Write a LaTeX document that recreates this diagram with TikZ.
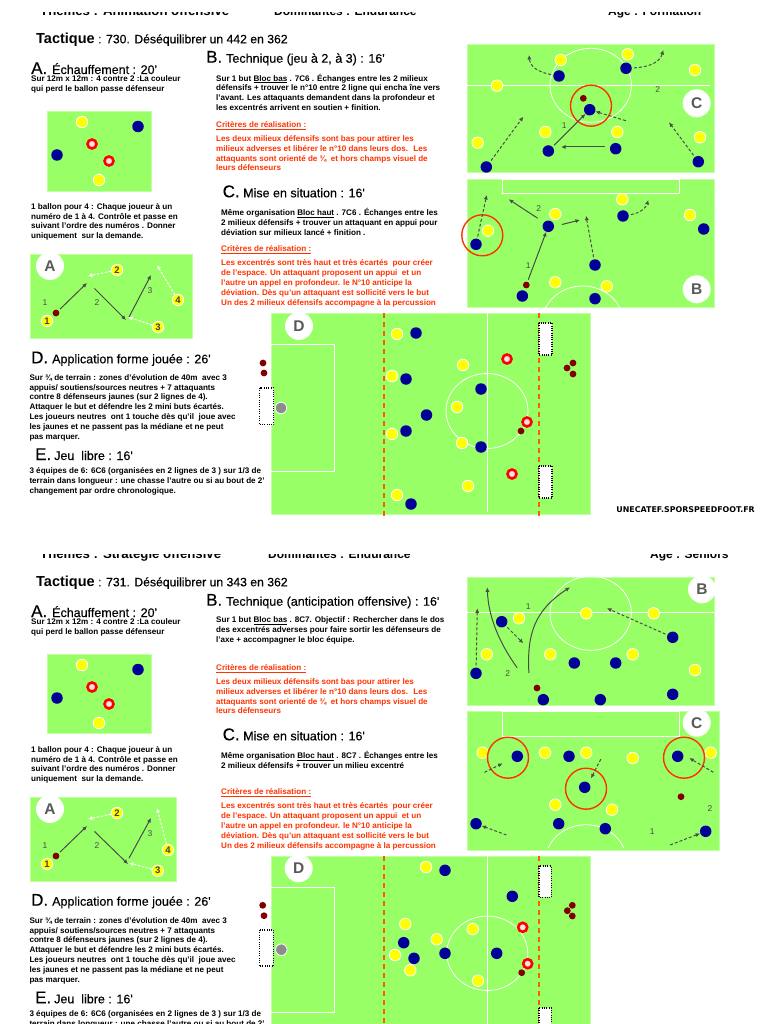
\documentclass[tikz,border=0pt]{standalone}
\usepackage{fontspec}
\setmainfont{Liberation Sans}
\newfontfamily\fonttitre{Liberation Sans}[FakeBold=0.35]
\newfontfamily\fontsite{DejaVu Sans}
\usetikzlibrary{arrows.meta,positioning}
\definecolor{VertTerrain}{RGB}{153,255,102}
\definecolor{BleuJoueur}{RGB}{0,0,153}
\definecolor{JauneJoueur}{RGB}{255,255,0}
\definecolor{RougeJoueur}{RGB}{255,0,0}
\definecolor{Ballon}{RGB}{128,0,0}
\definecolor{Orange}{RGB}{255,51,0}
\definecolor{TraitFleche}{RGB}{75,75,75}
\begin{document}
\begin{tikzpicture}[
    x=1pt, y=-1pt,
    terrain/.style={fill=VertTerrain, draw=VertTerrain!60!white, line width=0.5},
    ligne/.style={draw=white, line width=0.8},
    ja/.style={circle, inner sep=0, minimum size=11.5, fill=JauneJoueur, draw=white, line width=0.8},
    bl/.style={circle, inner sep=0, minimum size=11.5, fill=BleuJoueur},
    ro/.style={circle, inner sep=0, minimum size=9, fill=red!12, draw=RougeJoueur, line width=2.6},
    gris/.style={circle, inner sep=0, minimum size=11.5, fill=gray!90, draw=white, line width=0.8},
    ba/.style={circle, inner sep=0, minimum size=6.8, fill=Ballon},
    num/.style={font=\fontsize{9.5}{9.5}\selectfont\bfseries, text=black!75, inner sep=0},
    lettre/.style={circle, inner sep=0, minimum size=28, fill=white, text=black!65, font=\fontsize{15.5}{15.5}\selectfont\bfseries},
    cercle/.style={circle, inner sep=0, minimum size=41, draw=Orange, line width=1.4},
    chiffre/.style={font=\fontsize{8.5}{8.5}\selectfont, text=TraitFleche, inner sep=0},
    passe/.style={-{Latex[length=4.5,width=4.2]}, draw=TraitFleche, line width=1, shorten <=2},
    course/.style={passe, dash pattern=on 3 off 2},
    appel/.style={-{Latex[length=4.5,width=4.2]}, draw=white, line width=1, dash pattern=on 2.5 off 1.5},
    but/.style={fill=white, draw=black, line width=1.1, dash pattern=on 0.8 off 1.5},
    limite/.style={draw=Orange!80!yellow, line width=1.3, dash pattern=on 5 off 4},
    entete/.style={anchor=base west, inner sep=0, font=\fontsize{12}{12}\selectfont\bfseries},
    grand/.style={anchor=base west, inner sep=0, font=\fontsize{17}{17}\selectfont\fonttitre},
    titre/.style={anchor=base west, inner sep=0, font=\fontsize{12.5}{12.5}\selectfont\fonttitre},
    corps/.style={anchor=north west, inner sep=0, align=left, font=\fontsize{8.1}{9.8}\selectfont\bfseries, execute at begin node=\strut},
    rouge/.style={corps, text=Orange}
]
\path[use as bounding box, clip] (0,0) rectangle (768,1024);
\fill[white] (0,0) rectangle (768,1024);

\node[entete, font=\fontsize{13.2}{13.2}\selectfont\bfseries] (t1a) at (40,16) {Thèmes : Animation offensive};
\node[entete] (t1b) at (274,16) {Dominantes : Endurance};
\node[entete] (t1c) at (608,16) {Age : Formation};
\node[entete, font=\fontsize{13.2}{13.2}\selectfont\bfseries] (t2a) at (40,558) {Thèmes : Stratégie offensive};
\node[entete] (t2b) at (268,558) {Dominantes : Endurance};
\node[entete] (t2c) at (650,558) {Age : Seniors};
\fill[white] (0,0) rectangle (768,12);
\fill[white] (0,530) rectangle (768,553.5);

\node[anchor=base west, inner sep=0, font=\fontsize{14.5}{14.5}\selectfont\bfseries] (tac1) at (36,43.3) {Tactique};
\node[titre, font=\fontsize{12.2}{12.2}\selectfont\fonttitre] (tac1b) at (98,43.3) {: 730. Déséquilibrer un 442 en 362};
\node[grand] (a1) at (31,74) {A.};
\node[titre] (a1t) at (52,74) {Échauffement : 20'};
\node[corps] (a1c) at (31,75.4) {Sur 12m x 12m : 4 contre 2 :La couleur\\qui perd le ballon passe défenseur};
\node[corps] (a1d) at (31,203.1) {1 ballon pour 4 : Chaque joueur à un\\numéro de 1 à 4. Contrôle et passe en\\suivant l'ordre des numéros . Donner\\uniquement~ sur la demande.};
\node[grand] (b1) at (206,62.7) {B.};
\node[titre] (b1t) at (226,62.7) {Technique (jeu à 2, à 3) : 16'};
\node[corps] (b1c) at (216,73.8) {Sur 1 but \underline{Bloc bas} . 7C6 . Échanges entre les 2 milieux\\défensifs + trouver le n°10 entre 2 ligne qui encha îne vers\\l'avant. Les attaquants demandent dans la profondeur et\\les excentrés arrivent en soutien + finition.};
\node[rouge] (b1r) at (216,120.4) {\underline{Critères de réalisation :}};
\node[rouge] (b1s) at (216,135.4) {Les deux milieux défensifs sont bas pour attirer les\\milieux adverses et libérer le n°10 dans leurs dos.~ Les\\attaquants sont orienté de ¾~ et hors champs visuel de\\leurs défenseurs};
\node[grand] (c1) at (222.5,197.3) {C.};
\node[titre] (c1t) at (243,197.3) {Mise en situation : 16'};
\node[corps] (c1c) at (221,208.4) {Même organisation \underline{Bloc haut} . 7C6 . Échanges entre les\\2 milieux défensifs + trouver un attaquant en appui pour\\déviation sur milieux lancé + finition .};
\node[rouge] (c1r) at (221,244.8) {\underline{Critères de réalisation :}};
\node[rouge] (c1s) at (221,259.8) {Les excentrés sont très haut et très écartés~ pour créer\\de l'espace. Un attaquant proposent un appui~ et un\\l'autre un appel en profondeur. le N°10 anticipe la\\déviation. Dès qu'un attaquant est sollicité vers le but\\Un des 2 milieux défensifs accompagne à la percussion};
\node[grand] (d1) at (31,363.3) {D.};
\node[titre] (d1t) at (52,363.3) {Application forme jouée : 26'};
\node[corps] (d1c) at (29.3,374.1) {Sur ¾ de terrain : zones d'évolution de 40m~ avec 3\\appuis/ soutiens/sources neutres + 7 attaquants\\contre 8 défenseurs jaunes (sur 2 lignes de 4).\\Attaquer le but et défendre les 2 mini buts écartés.\\Les joueurs neutres~ ont 1 touche dès qu'il~ joue avec\\les jaunes et ne passent pas la médiane et ne peut\\pas marquer.};
\node[grand] (e1) at (35,460) {E.};
\node[titre] (e1t) at (54,460) {Jeu~ libre : 16'};
\node[corps] (e1c) at (29.3,467.4) {3 équipes de 6: 6C6 (organisées en 2 lignes de 3 ) sur 1/3 de\\terrain dans longueur : une chasse l'autre ou si au bout de 2'\\changement par ordre chronologique.};
\node[anchor=base east, inner sep=0, font=\fontsize{7.9}{7.9}\selectfont\fontsite\bfseries] (site) at (755,512.5) {UNECATEF.SPORSPEEDFOOT.FR};

\node[anchor=base west, inner sep=0, font=\fontsize{14.5}{14.5}\selectfont\bfseries] (tac2) at (36,586.3) {Tactique};
\node[titre, font=\fontsize{12.2}{12.2}\selectfont\fonttitre] (tac2b) at (98,586.3) {: 731. Déséquilibrer un 343 en 362};
\node[grand] (a2) at (31,617) {A.};
\node[titre] (a2t) at (52,617) {Échauffement : 20'};
\node[corps] (a2c) at (31,618.4) {Sur 12m x 12m : 4 contre 2 :La couleur\\qui perd le ballon passe défenseur};
\node[corps] (a2d) at (31,746.1) {1 ballon pour 4 : Chaque joueur à un\\numéro de 1 à 4. Contrôle et passe en\\suivant l'ordre des numéros . Donner\\uniquement~ sur la demande.};
\node[grand] (b2) at (206,605.7) {B.};
\node[titre] (b2t) at (226,605.7) {Technique (anticipation offensive) : 16'};
\node[corps] (b2c) at (216,616.8) {Sur 1 but \underline{Bloc bas} . 8C7. Objectif : Rechercher dans le dos\\des excentrés adverses pour faire sortir les défenseurs de\\l'axe + accompagner le bloc équipe.};
\node[rouge] (b2r) at (216,663.4) {\underline{Critères de réalisation :}};
\node[rouge] (b2s) at (216,678.4) {Les deux milieux défensifs sont bas pour attirer les\\milieux adverses et libérer le n°10 dans leurs dos.~ Les\\attaquants sont orienté de ¾~ et hors champs visuel de\\leurs défenseurs};
\node[grand] (c2) at (222.5,740.3) {C.};
\node[titre] (c2t) at (243,740.3) {Mise en situation : 16'};
\node[corps] (c2c) at (221,751.4) {Même organisation \underline{Bloc haut} . 8C7 . Échanges entre les\\2 milieux défensifs + trouver un milieu excentré};
\node[rouge] (c2r) at (221,787.8) {\underline{Critères de réalisation :}};
\node[rouge] (c2s) at (221,802.8) {Les excentrés sont très haut et très écartés~ pour créer\\de l'espace. Un attaquant proposent un appui~ et un\\l'autre un appel en profondeur. le N°10 anticipe la\\déviation. Dès qu'un attaquant est sollicité vers le but\\Un des 2 milieux défensifs accompagne à la percussion};
\node[grand] (d2) at (31,905.7) {D.};
\node[titre] (d2t) at (52,905.7) {Application forme jouée : 26'};
\node[corps] (d2c) at (29.3,917.1) {Sur ¾ de terrain : zones d'évolution de 40m~ avec 3\\appuis/ soutiens/sources neutres + 7 attaquants\\contre 8 défenseurs jaunes (sur 2 lignes de 4).\\Attaquer le but et défendre les 2 mini buts écartés.\\Les joueurs neutres~ ont 1 touche dès qu'il~ joue avec\\les jaunes et ne passent pas la médiane et ne peut\\pas marquer.};
\node[grand] (e2) at (35,1003.3) {E.};
\node[titre] (e2t) at (54,1003.3) {Jeu~ libre : 16'};
\node[corps] (e2c) at (29.3,1010.4) {3 équipes de 6: 6C6 (organisées en 2 lignes de 3 ) sur 1/3 de\\terrain dans longueur : une chasse l'autre ou si au bout de 2'};

\path[terrain] (47.5,111) rectangle (151,191);
\node[ja] (p1j1) at (82,122) {}; \node[bl] (p1b1) at (138,126.5) {}; \node[bl] (p1b2) at (57,155) {};
\node[ro] (p1r1) at (92,144) {}; \node[ro] (p1r2) at (109,161) {}; \node[ja] (p1j2) at (99,180) {};

\path[terrain] (30,254) rectangle (192,338);
\node[lettre] (lA1) at (50,266) {A};
\node[ja] (n1) at (47,321) {}; \node[ja] (n2) at (117,270) {}; \node[ja] (n3) at (158,327) {}; \node[ja] (n4) at (178,300) {};
\node[num] at (n1) {1}; \node[num] at (n2) {2}; \node[num] at (n3) {3}; \node[num] at (n4) {4};
\node[ba] (nb) at (56,313) {};
\draw[passe] (nb) -- (87,283);
\draw[passe] (93,287) -- (126,320);
\draw[passe] (128,319) -- (151,275);
\draw[appel] (n2) -- (88,276);
\draw[appel] (n4) -- (157,265);
\draw[appel] (n3) -- (128,317);
\node[chiffre] (ch1) at (45,303) {1}; \node[chiffre] (ch2) at (97,303) {2}; \node[chiffre] (ch3) at (150,291) {3};

\path[terrain] (467.3,44) rectangle (714.3,172.7);
\draw[ligne] (467.3,85.3) -- (710,85.3);
\draw[ligne] (590.7,85.3) ellipse [x radius=40.7, y radius=37];
\node[lettre] (lC1) at (696.7,103.3) {C};
\node[ja] (cj1) at (560.7,60) {}; \node[ja] (cj2) at (627.7,54.3) {}; \node[ja] (cj3) at (695,70) {}; \node[ja] (cj4) at (497,85.7) {};
\node[ja] (cj5) at (545.3,132) {}; \node[ja] (cj6) at (617.3,132) {}; \node[ja] (cj7) at (700,137.3) {}; \node[ja] (cj8) at (477.7,142.7) {};
\node[bl] (cb1) at (559,76) {}; \node[bl] (cb2) at (626,68.3) {}; \node[bl] (cb3) at (589.7,109.7) {}; \node[bl] (cb4) at (548.3,151) {};
\node[bl] (cb5) at (615.7,148.7) {}; \node[bl] (cb6) at (486.3,167) {}; \node[bl] (cb7) at (698.3,161.7) {};
\node[ba] (cba) at (583.3,98.3) {};
\node[cercle] (cc1) at (591,105.7) {};
\node[chiffre] (cn2) at (657.7,89.3) {2}; \node[chiffre] (cn1) at (564.3,126) {1};
\draw[course] (cb1) .. controls (537,72) and (530,66) .. (529,55);
\draw[course] (cb2) .. controls (650,67) and (660,62) .. (663.3,50);
\draw[passe] (cb4) -- (cb3);
\draw[passe] (606.7,147) -- (561,147);
\draw[course] (627.7,121.3) -- (cb3);
\draw[course] (cb6) -- (523.3,116.7);
\draw[course] (cb7) -- (669,122.3);

\path[terrain] (467.3,179) rectangle (714.3,307);
\draw[ligne] (502.7,179) rectangle (679,193.7);
\begin{scope}
\clip (467.3,179) rectangle (714.3,307);
\draw[ligne] (582.7,323) ellipse [x radius=40.7, y radius=37];
\end{scope}
\node[lettre] (lB1) at (696.7,289.3) {B};
\node[ja] (bj1) at (622.3,199.3) {}; \node[ja] (bj2) at (555.3,214) {}; \node[ja] (bj3) at (690,215) {};
\node[ja] (bj4) at (488,230.7) {}; \node[ja] (bj5) at (555.3,282.3) {}; \node[ja] (bj6) at (606.7,286.3) {};
\node[bl] (bb1) at (623,216) {}; \node[bl] (bb2) at (703.7,229) {}; \node[bl] (bb3) at (548.3,226.3) {}; \node[bl] (bb4) at (476,244.3) {};
\node[bl] (bb5) at (595,265) {}; \node[bl] (bb6) at (522.3,296) {}; \node[bl] (bb7) at (595,298.7) {};
\node[ba] (bba) at (526.3,285) {};
\node[cercle] (bc1) at (482.3,235.3) {};
\node[chiffre] (bn2) at (538.7,208.7) {2}; \node[chiffre] (bn1) at (528.3,265.7) {1};
\draw[course] (bb4) -- (486.7,195);
\draw[passe] (539.3,219.3) -- (508.7,199.3);
\draw[passe] (560,225) -- (580,220);
\draw[course] (bb5) -- (586,215.7);
\draw[passe] (bba) -- (bb3);
\draw[course] (bb1) .. controls (640,213) and (646,208) .. (648.3,200);

\path[terrain] (271,313) rectangle (590,514);
\draw[ligne] (271,344) -| (334,471) -- (271,471);
\draw[ligne] (487,313) -- (487,512);
\draw[ligne] (487,411) ellipse [x radius=41, y radius=37.5];
\draw[limite] (384,313) -- (384,516);
\draw[limite] (539,313) -- (539,516);
\path[but] (259.5,388) rectangle (273.7,424.6);
\path[but] (539,323) rectangle (552,355);
\path[but] (539,466) rectangle (552,498);
\node[lettre] (lD1) at (299,326) {D};
\node[gris] (dg) at (281,408) {};
\node[ja] (dj1) at (397,334) {}; \node[ja] (dj2) at (463,365) {}; \node[ja] (dj3) at (392,376) {}; \node[ja] (dj4) at (457,407) {};
\node[ja] (dj5) at (392,434) {}; \node[ja] (dj6) at (462,443) {}; \node[ja] (dj7) at (468,486) {}; \node[ja] (dj8) at (397,495) {};
\node[bl] (db1) at (416,333) {}; \node[bl] (db2) at (406,379) {}; \node[bl] (db3) at (481,389) {}; \node[bl] (db4) at (426.5,415) {};
\node[bl] (db5) at (406,431) {}; \node[bl] (db6) at (481,447) {}; \node[bl] (db7) at (411,504) {};
\node[ro] (dr1) at (507,359) {}; \node[ro] (dr2) at (527,422) {}; \node[ro] (dr3) at (512,474) {};
\node[ba] (dba) at (521,431) {};
\node[ba] (dn1) at (263,363) {}; \node[ba] (dn2) at (264,373) {};
\node[ba] (dn3) at (573,363) {}; \node[ba] (dn4) at (567,368) {}; \node[ba] (dn5) at (573,374) {};

\path[terrain] (47.5,654.7) rectangle (151,733.7);
\node[ja] (p2j1) at (82,665) {}; \node[bl] (p2b1) at (138,669.5) {}; \node[bl] (p2b2) at (57,698) {};
\node[ro] (p2r1) at (92,687) {}; \node[ro] (p2r2) at (109,704) {}; \node[ja] (p2j2) at (99,723) {};

\path[terrain] (30,797) rectangle (176.7,881.7);
\node[lettre] (lA2) at (50,809) {A};
\node[ja] (m1) at (47,864) {}; \node[ja] (m2) at (117,813) {}; \node[ja] (m3) at (157.7,870.7) {}; \node[ja] (m4) at (168,850) {};
\node[num] at (m1) {1}; \node[num] at (m2) {2}; \node[num] at (m3) {3}; \node[num] at (m4) {4};
\node[ba] (mb) at (56,856) {};
\draw[passe] (mb) -- (87,826);
\draw[passe] (93,830) -- (128,864);
\draw[passe] (128,860) -- (151,818);
\draw[appel] (m2) -- (88,819);
\draw[appel] (m4) -- (157,808);
\draw[appel] (m3) -- (129,863);
\node[chiffre] (mh1) at (45,846) {1}; \node[chiffre] (mh2) at (97,846) {2}; \node[chiffre] (mh3) at (150,834) {3};

\path[terrain] (467.3,577.3) rectangle (714.3,705.7);
\draw[ligne] (467.3,612.3) -- (714.3,612.3);
\draw[ligne] (590.7,613.3) ellipse [x radius=40.7, y radius=37];
\node[lettre] (lB2) at (702,589.3) {B};
\node[ja] (ej1) at (519,618.3) {}; \node[ja] (ej2) at (586.3,613.3) {}; \node[ja] (ej3) at (653.7,613.3) {}; \node[ja] (ej4) at (486.7,654.3) {};
\node[ja] (ej5) at (550.3,654.3) {}; \node[ja] (ej6) at (632.7,654.3) {}; \node[ja] (ej7) at (695,670) {};
\node[bl] (eb1) at (501.7,621.7) {}; \node[bl] (eb2) at (672.7,637.3) {}; \node[bl] (eb3) at (574.3,663) {}; \node[bl] (eb4) at (615.7,663) {};
\node[bl] (eb5) at (476,673.3) {}; \node[bl] (eb6) at (543.3,699.7) {}; \node[bl] (eb7) at (600.3,699.7) {}; \node[bl] (eb8) at (672.7,694.3) {};
\node[ba] (eba) at (537,688) {};
\node[chiffre] (en1) at (528.3,606.3) {1}; \node[chiffre] (en2) at (507.7,674) {2};
\draw[course] (eb5) -- (477.3,608.3);
\draw[passe] (518.3,669.3) .. controls (499.3,643) and (488.3,616.7) .. (487.3,587.3);
\draw[passe] (529,675) .. controls (526.7,633.3) and (535,610) .. (570,587.3);
\draw[course] (eb1) -- (523.3,643.3);
\draw[course] (eb2) -- (607,608.3);

\path[terrain] (467.3,711.7) rectangle (719.7,850);
\draw[ligne] (502.7,711.7) rectangle (679,736.7);
\begin{scope}
\clip (467.3,711.7) rectangle (719.7,847);
\draw[ligne] (586,861.7) ellipse [x radius=40.7, y radius=37];
\end{scope}
\node[lettre] (lC2) at (696.7,722.7) {C};
\node[ja] (fj1) at (482.7,752.7) {}; \node[ja] (fj2) at (545,752.7) {}; \node[ja] (fj3) at (586.3,752.7) {}; \node[ja] (fj4) at (632.7,758) {};
\node[ja] (fj5) at (710.7,752.7) {}; \node[ja] (fj6) at (555.3,804.7) {}; \node[ja] (fj7) at (612,809.7) {};
\node[bl] (fb1) at (517.3,756.3) {}; \node[bl] (fb2) at (569,756.3) {}; \node[bl] (fb3) at (677.7,756.3) {}; \node[bl] (fb4) at (584.7,787.3) {};
\node[bl] (fb5) at (476,823.7) {}; \node[bl] (fb6) at (558.7,823.7) {}; \node[bl] (fb7) at (605.3,828.7) {}; \node[bl] (fb8) at (705.7,831.3) {};
\node[ba] (fba) at (681,796.7) {};
\node[cercle] (fc1) at (508,757.7) {}; \node[cercle] (fc2) at (586,788.7) {}; \node[cercle] (fc3) at (684,757.7) {};
\node[chiffre] (fn2) at (710,808.7) {2}; \node[chiffre] (fn1) at (652.3,831.7) {1};
\draw[course] (482.7,773.3) -- (502.7,763.3);
\draw[course] (601.7,757.3) -- (591,778.3);
\draw[course] (715,773.3) -- (689.3,758);
\draw[course] (508.3,835.7) -- (fb5);
\draw[course] (668.3,845.7) -- (fb8);

\path[terrain] (271,856) rectangle (590.7,1030);
\draw[ligne] (271,887.3) -| (334.3,1012.3) -- (271,1012.3);
\draw[ligne] (487.3,856) -- (487.3,1030);
\draw[ligne] (487.3,953.3) ellipse [x radius=40.5, y radius=37.2];
\draw[limite] (384,856) -- (384,1030);
\draw[limite] (539,856) -- (539,1030);
\path[but] (259.3,930) rectangle (273.3,966);
\path[but] (539,866) rectangle (551.3,897.3);
\path[but] (539,1008) rectangle (551.3,1040);
\node[lettre] (lD2) at (298.7,868.3) {D};
\node[gris] (gg) at (281.3,949.7) {};
\node[ja] (gj1) at (426,867) {}; \node[ja] (gj2) at (405.3,924) {}; \node[ja] (gj3) at (472.7,929) {}; \node[ja] (gj4) at (436.7,939.3) {};
\node[ja] (gj5) at (395,955) {}; \node[ja] (gj6) at (410.3,970.3) {}; \node[ja] (gj7) at (478,980.7) {};
\node[bl] (gb1) at (445,870.3) {}; \node[bl] (gb2) at (512.3,896.3) {}; \node[bl] (gb3) at (403.7,942.7) {};
\node[bl] (gb4) at (414,958.3) {}; \node[bl] (gb5) at (445,953.3) {}; \node[bl] (gb6) at (496.7,953.3) {};
\node[ro] (gr1) at (522.7,927.3) {}; \node[ro] (gr2) at (527.7,963.7) {};
\node[ba] (gba) at (521.7,972.7) {};
\node[ba] (gn1) at (262.7,905.3) {}; \node[ba] (gn2) at (264,915.7) {};
\node[ba] (gn3) at (572.3,905.3) {}; \node[ba] (gn4) at (567.3,910.7) {}; \node[ba] (gn5) at (572.3,916) {};
\end{tikzpicture}
\end{document}
